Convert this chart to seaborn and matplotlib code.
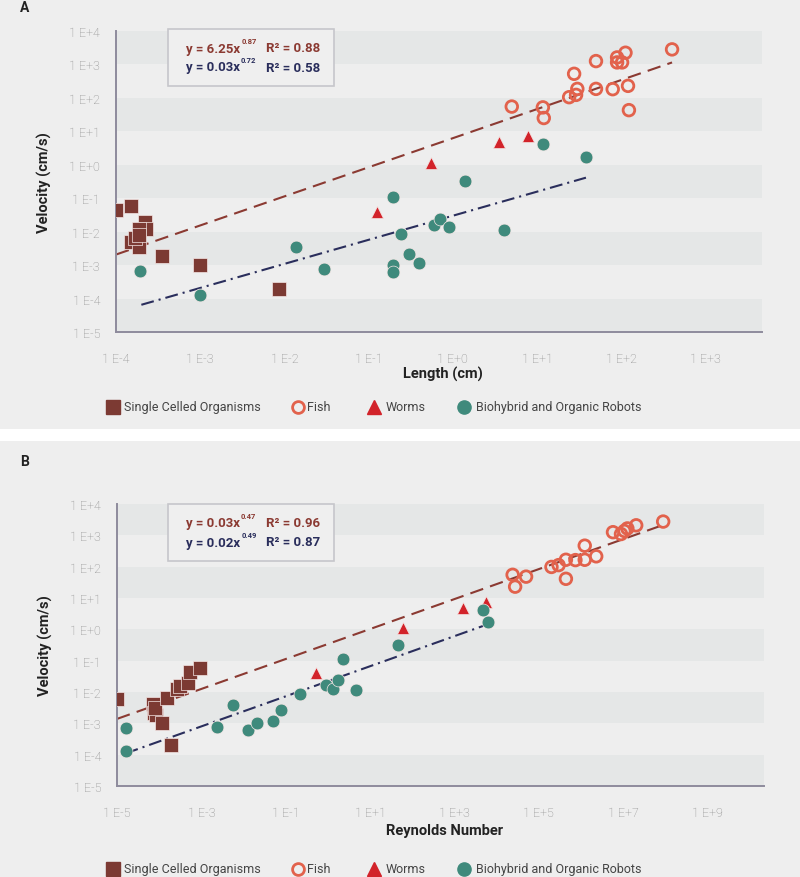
import numpy as np
import pandas as pd
import seaborn as sns
import matplotlib.pyplot as plt
from matplotlib.lines import Line2D
from matplotlib.patches import Rectangle
from matplotlib.text import Annotation
from matplotlib.ticker import FixedLocator, FuncFormatter, NullLocator

# ---- panel A: length (cm) vs velocity (cm/s)
cell_len = [1.0e-4, 1.5e-4, 2.2e-4, 2.3e-4, 1.9e-4, 1.5e-4, 1.9e-4, 1.7e-4, 1.9e-4, 3.5e-4, 1.0e-3, 8.7e-3]
cell_vel_a = [0.046, 0.058, 0.020, 0.012, 0.012, 0.0048, 0.0034, 0.0063, 0.0080, 0.0019, 0.0010, 0.00019]
fish_len = [5.0, 11.7, 12.0, 24, 29, 30, 27.5, 50, 50, 79, 89, 89, 102, 112, 120, 123, 400]
fish_vel_a = [55, 52, 25, 105, 123, 186, 525, 186, 1260, 182, 1150, 1620, 1150, 2240, 229, 43, 2820]
worm_len = [0.126, 0.55, 3.5, 7.8]
worm_vel_a = [0.038, 1.12, 4.7, 7.4]
robot_len = [1.95e-4, 1.0e-3, 0.0138, 0.0295, 0.195, 0.245, 0.195, 0.195, 0.30, 0.40,
             0.59, 0.71, 0.91, 1.38, 4.0, 11.7, 38]
robot_vel_a = [6.8e-4, 1.3e-4, 0.0036, 7.6e-4, 0.112, 0.0083, 1.0e-3, 6.2e-4, 0.0022, 0.00115,
               0.0158, 0.024, 0.0138, 0.32, 0.0112, 4.2, 1.7]

# ---- panel B: Reynolds number vs velocity (cm/s)
cell_re = [1.0e-5, 7.2e-5, 7.6e-5, 8.3e-5, 8.0e-5, 1.15e-4, 1.55e-4, 2.7e-4, 3.2e-4, 4.8e-4, 5.4e-4, 9.3e-4, 1.95e-4]
cell_vel_b = [0.0058, 0.0042, 0.0022, 0.0019, 0.0032, 0.0010, 0.0065, 0.0126, 0.016, 0.020, 0.045, 0.057, 2.0e-4]
fish_re = [2.4e4, 2.75e4, 5.0e4, 2.0e5, 2.95e5, 4.4e5, 4.4e5, 7.4e5, 1.23e6, 1.23e6, 2.3e6,
           5.75e6, 8.9e6, 1.07e7, 1.26e7, 2.04e7, 8.9e7]
fish_vel_b = [55, 23, 48, 98, 112, 166, 41, 162, 468, 166, 214, 1260, 1100, 1380, 1660, 2090, 2750]
worm_re = [0.51, 59, 1580, 5500]
worm_vel_b = [0.040, 1.07, 4.7, 7.2]
robot_re = [1.6e-5, 1.6e-5, 2.3e-3, 5.5e-3, 0.0129, 0.0214, 0.049, 0.076, 0.214, 0.91, 1.32,
            1.7, 2.34, 4.7, 46, 4700, 6200]
robot_vel_b = [7.2e-4, 1.35e-4, 7.9e-4, 0.0039, 6.2e-4, 0.00102, 0.00123, 0.0026, 0.0087, 0.0162,
               0.0126, 0.0245, 0.115, 0.012, 0.32, 4.0, 1.7]

# power-law fits: coefficient, exponent, x range
fit_fish_a = (6.25, 0.87, [1e-4, 400])
fit_robot_a = (0.03, 0.72, [2e-4, 38])
fit_fish_b = (0.34, 0.478, [1e-5, 9e7])
fit_robot_b = (0.022, 0.48, [1.6e-5, 5000])

# fit labels: base, exponent, R²
eq_a = [("y = 6.25x", "0.87", "R² = 0.88"), ("y = 0.03x", "0.72", "R² = 0.58")]
eq_b = [("y = 0.03x", "0.47", "R² = 0.96"), ("y = 0.02x", "0.49", "R² = 0.87")]

groups = ["Single Celled Organisms", "Fish", "Worms", "Biohybrid and Organic Robots"]
colors = {"Single Celled Organisms": "#7c3a33", "Fish": "#e2624c",
          "Worms": "#d2232a", "Biohybrid and Organic Robots": "#3f8a7c"}
markers = {"Single Celled Organisms": "s", "Fish": "o", "Worms": "^", "Biohybrid and Organic Robots": "o"}
sizes = {"Single Celled Organisms": 95, "Fish": 70, "Worms": 75, "Biohybrid and Organic Robots": 85}
fit_brown = "#8b3a32"
fit_navy = "#2a2e5c"
axis_col = "#8e8b9c"
bg = "#eeeeee"
band = "#e5e7e7"
FONT = ["Roboto", "DejaVu Sans"]

sns.set_theme(style="white")
plt.rcParams["font.family"] = FONT

W, H = 800, 878
fig = plt.figure(figsize=(W / 100, H / 100), dpi=100, facecolor="white")


def fx(px):
    return px / W


def fy(py):
    return 1 - py / H


fig.add_artist(Rectangle((0, fy(430)), 1, 430 / H, transform=fig.transFigure, fc=bg, ec="none", zorder=-5))
fig.add_artist(Rectangle((0, 0), 1, fy(442), transform=fig.transFigure, fc=bg, ec="none", zorder=-5))


def make_df(xs, ys):
    rows = []
    for g, (x, y) in zip(groups, zip(xs, ys)):
        rows += [{"x": a, "y": b, "group": g} for a, b in zip(x, y)]
    return pd.DataFrame(rows)


def draw_panel(ax, df, fits, xlim, xticks, xlabel, xlab_px):
    ax.set_facecolor("none")
    ax.set_xscale("log")
    ax.set_yscale("log")
    for lo in [1e3, 1e1, 1e-1, 1e-3, 1e-5]:
        ax.axhspan(lo, lo * 10, color=band, lw=0, zorder=0)
    for (c, e, xr), col, dash in zip(fits, [fit_brown, fit_navy], [(6.5, 3.5), (6.2, 2.4, 1.0, 2.4)]):
        xr = np.array(xr)
        sns.lineplot(x=xr, y=c * xr ** e, ax=ax, color=col, lw=1.5, zorder=2)
        ax.lines[-1].set_dashes(dash)
    for g in groups:
        sub = df[df.group == g]
        if g == "Fish":
            sns.scatterplot(data=sub, x="x", y="y", ax=ax, marker="o", s=sizes[g],
                            linewidth=2, zorder=3)
            ax.collections[-1].set_facecolor("none")
            ax.collections[-1].set_edgecolor(colors[g])
        else:
            sns.scatterplot(data=sub, x="x", y="y", ax=ax, marker=markers[g], s=sizes[g],
                            color=colors[g], edgecolor="#f4e6e4", linewidth=0.5, zorder=3)
    ax.set_xlim(*xlim)
    ax.set_ylim(1e-5, 1e4)
    for s in ["top", "right"]:
        ax.spines[s].set_visible(False)
    for s in ["left", "bottom"]:
        ax.spines[s].set_color(axis_col)
        ax.spines[s].set_linewidth(1.4)
    ax.xaxis.set_major_locator(FixedLocator(xticks))
    ax.yaxis.set_major_locator(FixedLocator([10.0 ** k for k in range(-5, 5)]))
    ax.xaxis.set_minor_locator(NullLocator())
    ax.yaxis.set_minor_locator(NullLocator())
    fmt = FuncFormatter(lambda v, _: f"1 E{int(round(np.log10(v))):+d}")
    ax.xaxis.set_major_formatter(fmt)
    ax.yaxis.set_major_formatter(fmt)
    ax.tick_params(axis="both", direction="inout", length=11, width=1.2, color=axis_col,
                   labelcolor="#8a8a8a", labelsize=9)
    for lab in ax.get_xticklabels() + ax.get_yticklabels():
        lab.set_fontweight("light")
    ax.tick_params(axis="x", pad=9)
    ax.tick_params(axis="y", pad=6)
    ax.set_xlabel(xlabel, fontsize=10.5, fontweight="bold", color="#222222")
    ax.set_ylabel("Velocity (cm/s)", fontsize=10.5, fontweight="bold", color="#222222")
    bbox = ax.get_position()
    ax.yaxis.set_label_coords(-64 / (bbox.width * W), 0.5)
    ax.xaxis.set_label_coords(0.506, -xlab_px / (bbox.height * H))
    ax.grid(False)


def draw_box(top, eqs):
    fig.add_artist(Rectangle((fx(168), fy(top + 57)), 166 / W, 57 / H, transform=fig.transFigure,
                             fc="#efefef", ec="#c6c6cb", lw=1.2, zorder=5))
    for (base, ex, r2), col, dy in zip(eqs, [fit_brown, fit_navy], [19, 38]):
        t = fig.text(fx(186), fy(top + dy), base, color=col, fontsize=9.5, fontweight="bold",
                     va="center", zorder=6)
        # exponent placed just after the base text, raised
        sup = Annotation(ex, xy=(1.0, 0.5), xycoords=t, xytext=(0.8, 3.0), textcoords="offset points",
                         color=col, fontsize=5.5, fontweight="bold", va="bottom", ha="left",
                         annotation_clip=False)
        sup.set_zorder(7)
        fig.add_artist(sup)
        fig.text(fx(266), fy(top + dy), r2, color=col, fontsize=9.5, fontweight="bold", va="center", zorder=6)


def draw_legend(py):
    # marker centre x and text start x, in pixels
    spots = [(113, 124), (298, 307), (374, 386), (464, 476)]
    for g, (mx, tx) in zip(groups, spots):
        if g == "Fish":
            h = Line2D([fx(mx)], [fy(py)], ls="", marker="o", ms=8.5, mfc="none", mec=colors[g], mew=2,
                       transform=fig.transFigure)
        elif g == "Single Celled Organisms":
            h = Line2D([fx(mx)], [fy(py)], ls="", marker="s", ms=10, color=colors[g],
                       transform=fig.transFigure)
        else:
            h = Line2D([fx(mx)], [fy(py)], ls="", marker=markers[g], ms=9.5, color=colors[g],
                       transform=fig.transFigure)
        fig.add_artist(h)
        fig.text(fx(tx), fy(py), g, fontsize=9, color="#444444", va="center")


# panel A
ax_a = fig.add_axes([fx(116), fy(333), (762 - 116) / W, (333 - 32) / H])
df_a = make_df([cell_len, fish_len, worm_len, robot_len], [cell_vel_a, fish_vel_a, worm_vel_a, robot_vel_a])
draw_panel(ax_a, df_a, [fit_fish_a, fit_robot_a], (1e-4, 10 ** 3.67),
           [10.0 ** k for k in range(-4, 4)], "Length (cm)", 34)
draw_box(30, eq_a)
draw_legend(408)
fig.text(fx(20), fy(8), "A", fontsize=10, fontweight="bold", va="center", color="#222222")

# panel B
ax_b = fig.add_axes([fx(117), fy(787), (764 - 117) / W, (787 - 505) / H])
df_b = make_df([cell_re, fish_re, worm_re, robot_re], [cell_vel_b, fish_vel_b, worm_vel_b, robot_vel_b])
draw_panel(ax_b, df_b, [fit_fish_b, fit_robot_b], (1e-5, 10 ** 10.34),
           [10.0 ** k for k in range(-5, 10, 2)], "Reynolds Number", 37)
draw_box(505, eq_b)
draw_legend(870)
fig.text(fx(20), fy(462), "B", fontsize=10, fontweight="bold", va="center", color="#222222")

fig.savefig("out.png", dpi=100, facecolor=fig.get_facecolor())
